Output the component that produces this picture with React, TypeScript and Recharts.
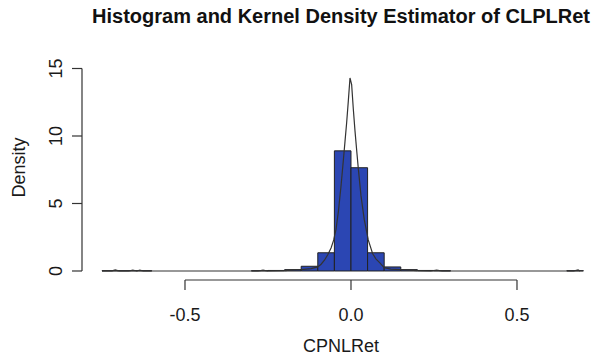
import React from "react";
import {
  ComposedChart,
  Line,
  XAxis,
  YAxis,
  ReferenceArea,
  ReferenceLine,
} from "recharts";

// Histogram bins (left edge, right edge, density)
const binStarts = [-0.75, -0.7, -0.65, -0.3, -0.25, -0.2, -0.15, -0.1, -0.05, 0.0, 0.05, 0.1, 0.15, 0.2, 0.25, 0.65];
const binWidth = 0.05;
const binDensities = [0.02, 0.02, 0.02, 0.02, 0.04, 0.1, 0.35, 1.35, 8.9, 7.65, 1.35, 0.3, 0.1, 0.04, 0.02, 0.02];

// Kernel density estimate points
const kdeX = [
  -0.75, -0.72, -0.71, -0.70, -0.67, -0.657, -0.645, -0.636, -0.625, -0.6, -0.4, -0.28, -0.265, -0.25,
  -0.2, -0.17, -0.15, -0.12, -0.1, -0.09, -0.08, -0.07, -0.06, -0.052, -0.045, -0.038, -0.03,
  -0.023, -0.018, -0.013, -0.008, -0.003, 0.002, 0.007, 0.012, 0.018, 0.022, 0.03, 0.04,
  0.052, 0.065, 0.075, 0.087, 0.1, 0.12, 0.15, 0.2, 0.24, 0.258, 0.275, 0.4, 0.6, 0.67, 0.684, 0.69,
];
const kdeY = [
  0.0, 0.01, 0.08, 0.01, 0.0, 0.07, 0.0, 0.07, 0.0, 0.0, 0.0, 0.0, 0.07, 0.0,
  0.03, 0.08, 0.1, 0.18, 0.3, 0.5, 0.8, 1.2, 1.7, 2.3, 3.1, 4.4, 6.3,
  8.2, 9.6, 11.0, 12.6, 14.3, 13.8, 12.0, 10.4, 8.7, 7.6, 5.6, 3.8,
  2.3, 1.3, 0.9, 0.6, 0.25, 0.14, 0.1, 0.03, 0.0, 0.07, 0.0, 0.0, 0.0, 0.0, 0.08, 0.0,
];

const xTicks = [-0.5, 0.0, 0.5];
const yTicks = [0, 5, 10, 15];

const title = "Histogram and Kernel Density Estimator of CLPLRet";
const xLabel = "CPNLRet";
const yLabel = "Density";

const X_DOMAIN: [number, number] = [-0.8102, 0.741];
const Y_DOMAIN: [number, number] = [-0.667, 16];

const kdeData = kdeX.map((x, i) => ({ x, d: kdeY[i] }));
const bins = binStarts.map((s, i) => ({ x1: s, x2: s + binWidth, y: binDensities[i] }));

const FONT = "'Liberation Sans', Arial, Helvetica, sans-serif";
const INK = "#1a1a1a";

const XTick = (props: any) => {
  const { x, payload } = props;
  return (
    <text x={x} y={321} textAnchor="middle" fontSize={18} fontFamily={FONT} fill={INK}>
      {Number(payload.value).toFixed(1)}
    </text>
  );
};

const YTick = (props: any) => {
  const { y, payload } = props;
  return (
    <text
      x={62}
      y={y}
      textAnchor="middle"
      fontSize={18}
      fontFamily={FONT}
      fill={INK}
      transform={`rotate(-90, 62, ${y})`}
    >
      {payload.value}
    </text>
  );
};

export default function App() {
  return (
    <div style={{ position: "absolute", left: 0, top: 0, width: 597, height: 359, background: "#fff" }}>
      <ComposedChart
        width={597}
        height={359}
        data={kdeData}
        margin={{ top: 55, right: 0, bottom: 39, left: 42 }}
      >
        <XAxis
          dataKey="x"
          type="number"
          domain={X_DOMAIN}
          allowDataOverflow
          ticks={xTicks}
          interval={0}
          height={40}
          axisLine={false}
          tickSize={10}
          tickLine={{ stroke: "#333", strokeWidth: 1.2 }}
          tick={<XTick />}
        />
        <YAxis
          type="number"
          domain={Y_DOMAIN}
          allowDataOverflow
          ticks={yTicks}
          interval={0}
          width={40}
          axisLine={false}
          tickSize={10}
          tickLine={{ stroke: "#333", strokeWidth: 1.2 }}
          tick={<YTick />}
        />
        <ReferenceLine
          segment={[{ x: xTicks[0], y: Y_DOMAIN[0] }, { x: xTicks[xTicks.length - 1], y: Y_DOMAIN[0] }]}
          stroke="#333"
          strokeWidth={1.2}
          ifOverflow="visible"
        />
        <ReferenceLine
          segment={[{ x: X_DOMAIN[0], y: yTicks[0] }, { x: X_DOMAIN[0], y: yTicks[yTicks.length - 1] }]}
          stroke="#333"
          strokeWidth={1.2}
          ifOverflow="visible"
        />
        {bins.map((b, i) => (
          <ReferenceArea
            key={i}
            x1={b.x1}
            x2={b.x2}
            y1={0}
            y2={b.y}
            fill="#2b46b3"
            fillOpacity={1}
            stroke="#222"
            strokeWidth={1}
            ifOverflow="visible"
          />
        ))}
        <Line
          dataKey="d"
          type="linear"
          stroke="#333"
          strokeWidth={1.2}
          dot={false}
          isAnimationActive={false}
        />
      </ComposedChart>
      <svg
        width={597}
        height={359}
        style={{ position: "absolute", left: 0, top: 0, pointerEvents: "none" }}
      >
        <text x={341} y={22.5} textAnchor="middle" fontSize={20} fontWeight="bold" fontFamily={FONT} fill="#111">
          {title}
        </text>
        <text x={341} y={352} textAnchor="middle" fontSize={18} fontFamily={FONT} fill={INK}>
          {xLabel}
        </text>
        <text
          x={25}
          y={167.5}
          textAnchor="middle"
          fontSize={18}
          fontFamily={FONT}
          fill={INK}
          transform="rotate(-90, 25, 167.5)"
        >
          {yLabel}
        </text>
      </svg>
    </div>
  );
}
